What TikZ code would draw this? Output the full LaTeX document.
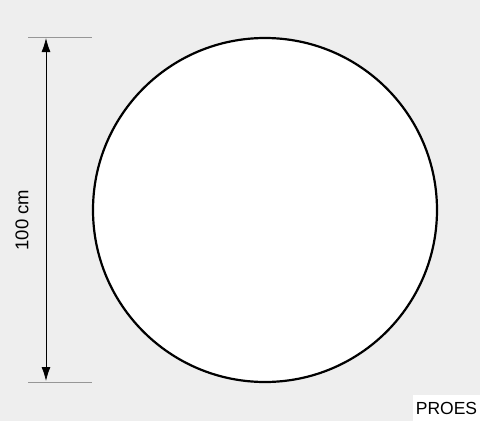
\documentclass[tikz,border=0pt]{standalone}
\usepackage{fontspec}
\setmainfont{Liberation Sans}
\usetikzlibrary{arrows.meta}
\definecolor{paper}{RGB}{238,238,238}
\definecolor{guide}{RGB}{150,150,150}

\begin{document}
\begin{tikzpicture}[x=1pt, y=-1pt,
    dim/.style={{Latex[length=14pt,width=9pt]}-{Latex[length=14pt,width=9pt]}, line width=0.8pt},
    guideline/.style={guide, line width=1pt}]
\fill[paper] (0,0) rectangle (480,421);
\useasboundingbox (0,0) rectangle (480,421);
\node[circle, draw, line width=2.2pt, fill=white, minimum size=344pt, inner sep=0pt] (disc) at (265,210) {};
% líneas de cota
\coordinate (top) at (28,37);
\coordinate (bot) at (28,382);
\draw[guideline] (top) -- (top -| disc.west);
\draw[guideline] (bot) -- (bot -| disc.west);
\coordinate (dimtop) at (46,38);
\coordinate (dimbot) at (46,381);
\draw[dim] (dimtop) -- (dimbot);
\node[rotate=90, font=\fontsize{18.5}{20}\selectfont] (size) at (22,220) {100 cm};
% marca
\node[fill=white, minimum width=67pt, minimum height=26pt, inner sep=0pt,
    font=\fontsize{17.5}{19}\selectfont] (brand) at (446.5,408) {PROES};
\end{tikzpicture}
\end{document}
